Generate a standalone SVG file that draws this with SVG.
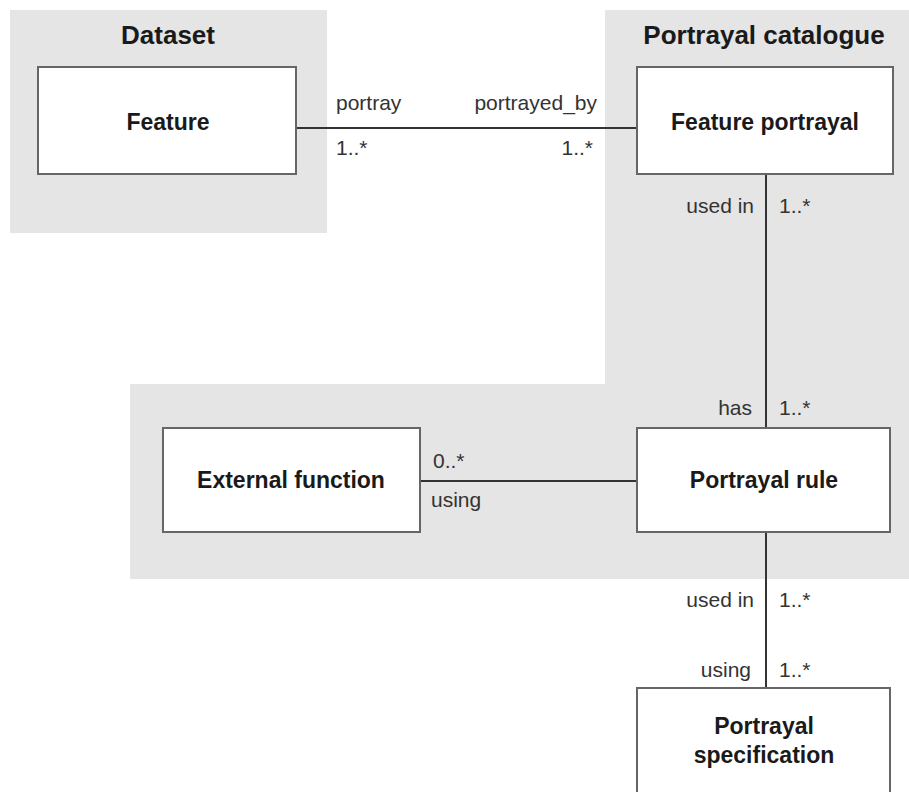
<svg xmlns="http://www.w3.org/2000/svg" width="909" height="792" viewBox="0 0 909 792">
<style>
.pkg{fill:#e5e5e5;stroke:none}
.title{font-family:"Liberation Sans",Arial,sans-serif;font-weight:bold;font-size:26px;fill:#1a1a1a;text-anchor:middle}
.box{fill:#fff;stroke:#666;stroke-width:2}
.name{font-family:"Liberation Sans",Arial,sans-serif;font-weight:bold;font-size:23px;fill:#1a1a1a;text-anchor:middle}
.lbl{font-family:"Liberation Sans",Arial,sans-serif;font-size:21px;fill:#333}
.end{text-anchor:end}
.conn{stroke:#333;stroke-width:2;fill:none}
</style>
<rect width="909" height="792" fill="#fff"/>
<g id="pkg-dataset">
<rect class="pkg" x="10" y="10" width="317" height="223"/>
<text class="title" x="168" y="44">Dataset</text>
</g>
<g id="pkg-catalogue">
<path class="pkg" d="M605,10 H909 V579 H130 V384 H605 Z"/>
<text class="title" x="764" y="44">Portrayal catalogue</text>
</g>
<g id="connectors">
<line class="conn" x1="296" y1="128" x2="637" y2="128"/>
<line class="conn" x1="766" y1="174" x2="766" y2="428"/>
<line class="conn" x1="420" y1="481" x2="637" y2="481"/>
<line class="conn" x1="766" y1="532" x2="766" y2="688"/>
<text class="lbl" x="336" y="110">portray</text>
<text class="lbl end" x="597" y="110">portrayed_by</text>
<text class="lbl" x="336" y="155">1..*</text>
<text class="lbl end" x="593" y="155">1..*</text>
<text class="lbl end" x="754" y="213">used in</text>
<text class="lbl" x="779" y="213">1..*</text>
<text class="lbl end" x="752" y="415">has</text>
<text class="lbl" x="779" y="415">1..*</text>
<text class="lbl" x="433" y="468">0..*</text>
<text class="lbl" x="431" y="507">using</text>
<text class="lbl end" x="754" y="607">used in</text>
<text class="lbl" x="779" y="607">1..*</text>
<text class="lbl end" x="751" y="677">using</text>
<text class="lbl" x="779" y="677">1..*</text>
</g>
<g id="feature">
<rect class="box" x="38" y="67" width="258" height="107"/>
<text class="name" x="168" y="130">Feature</text>
</g>
<g id="feature-portrayal">
<rect class="box" x="637" y="67" width="256" height="107"/>
<text class="name" x="765" y="130">Feature portrayal</text>
</g>
<g id="external-function">
<rect class="box" x="163" y="428" width="257" height="104"/>
<text class="name" x="291" y="488">External function</text>
</g>
<g id="portrayal-rule">
<rect class="box" x="637" y="428" width="253" height="104"/>
<text class="name" x="764" y="488">Portrayal rule</text>
</g>
<g id="portrayal-specification">
<rect class="box" x="637" y="688" width="253" height="110"/>
<text class="name" x="764" y="734">Portrayal</text>
<text class="name" x="764" y="763">specification</text>
</g>
</svg>
